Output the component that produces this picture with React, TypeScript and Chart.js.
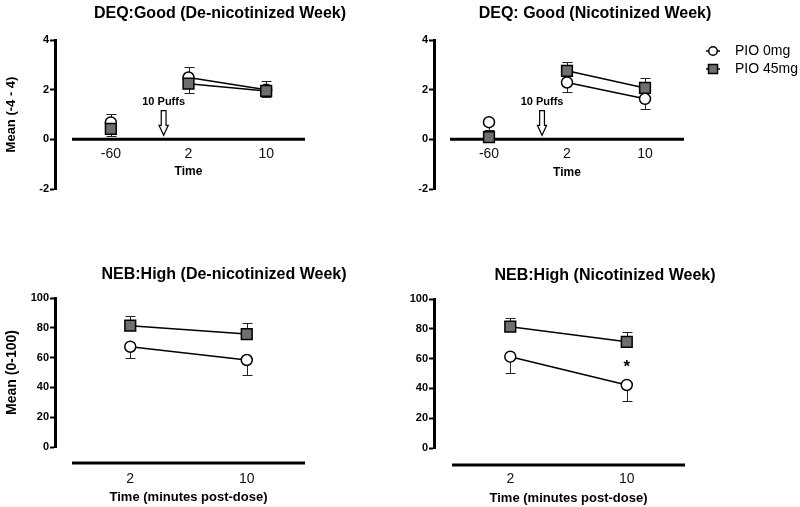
import React, { useEffect, useRef } from 'react';
import { Chart, registerables } from 'chart.js';

Chart.register(...registerables);

// ---------- data ----------
const deqTimes = ['-60', '2', '10'];
const nebTimes = ['2', '10'];
const seriesNames = ['PIO 0mg', 'PIO 45mg'];

const deqTicks = [-2, 0, 2, 4];
const nebTicks = [0, 20, 40, 60, 80, 100];

// DEQ: Good, de-nicotinized week
const deqDeNicPio0 = [0.68, 2.49, 2.0];
const deqDeNicPio0Err = [0.36, 0.43, 0.36];
const deqDeNicPio45 = [0.42, 2.24, 1.95];
const deqDeNicPio45Err = [0.3, 0.36, 0.23];

// DEQ: Good, nicotinized week
const deqNicPio0 = [0.69, 2.29, 1.63];
const deqNicPio0Err = [0.3, 0.37, 0.4];
const deqNicPio45 = [0.09, 2.76, 2.07];
const deqNicPio45Err = [0.15, 0.36, 0.38];

// NEB: High, de-nicotinized week
const nebDeNicPio0 = [67.3, 58.4];
const nebDeNicPio0Err = [7.8, 10.1];
const nebDeNicPio45 = [81.4, 75.8];
const nebDeNicPio45Err = [6.6, 7.2];

// NEB: High, nicotinized week
const nebNicPio0 = [61.3, 42.3];
const nebNicPio0Err = [10.8, 10.8];
const nebNicPio45 = [81.4, 71.3];
const nebNicPio45Err = [6.0, 6.7];

// significance marker (NEB nicotinized, 10 min)
const starTimeIndex = [1];
const starValue = [56];

// puff administration marker (between -60 and 2)
const puffPosition = 0.68;
const puffLabel = '10 Puffs';

const FONT = "'Liberation Sans', Arial, Helvetica, sans-serif";
const GRAY = '#6f6f6f';

interface Panel {
  key: string;
  left: number; top: number; width: number; height: number;
  title: string; titleX: number; titleY: number;
  cats: string[];
  s0: number[]; e0: number[]; d0: number;
  s45: number[]; e45: number[]; d45: number;
  yMin: number; yMax: number; yTicks: number[];
  yTitle?: string; yTitleSize: number;
  yAxisWidth: number; padTop: number; padBottom: number; padRight: number;
  xMin: number; xMax: number; xAxisHeight: number; tickPad: number;
  zeroAxis: boolean; lineOffset: number;
  xTitle: string; xTitleSize: number; xTitleOffset: number;
  separateFirst: boolean;
  arrow: boolean; legend: boolean; star: boolean;
}

const panels: Panel[] = [
  {
    key: 'tl', left: 0, top: 0, width: 400, height: 250,
    title: 'DEQ:Good (De-nicotinized Week)', titleX: 220, titleY: 14,
    cats: deqTimes,
    s0: deqDeNicPio0, e0: deqDeNicPio0Err, d0: 1,
    s45: deqDeNicPio45, e45: deqDeNicPio45Err, d45: -1,
    yMin: -2, yMax: 4, yTicks: deqTicks, yTitle: 'Mean (-4 - 4)', yTitleSize: 13,
    yAxisWidth: 55, padTop: 40, padBottom: 61, padRight: 95,
    xMin: -0.719, xMax: 2.5, xAxisHeight: 45, tickPad: 6.6,
    zeroAxis: true, lineOffset: 0,
    xTitle: 'Time', xTitleSize: 12, xTitleOffset: 32,
    separateFirst: true, arrow: true, legend: false, star: false,
  },
  {
    key: 'tr', left: 400, top: 0, width: 400, height: 250,
    title: 'DEQ: Good (Nicotinized Week)', titleX: 195, titleY: 14,
    cats: deqTimes,
    s0: deqNicPio0, e0: deqNicPio0Err, d0: -1,
    s45: deqNicPio45, e45: deqNicPio45Err, d45: 1,
    yMin: -2, yMax: 4, yTicks: deqTicks, yTitleSize: 13,
    yAxisWidth: 34, padTop: 40, padBottom: 61, padRight: 116,
    xMin: -0.705, xMax: 2.5, xAxisHeight: 45, tickPad: 6.6,
    zeroAxis: true, lineOffset: 0,
    xTitle: 'Time', xTitleSize: 12, xTitleOffset: 33.5,
    separateFirst: true, arrow: true, legend: true, star: false,
  },
  {
    key: 'bl', left: 0, top: 250, width: 400, height: 257,
    title: 'NEB:High (De-nicotinized Week)', titleX: 224, titleY: 25,
    cats: nebTimes,
    s0: nebDeNicPio0, e0: nebDeNicPio0Err, d0: -1,
    s45: nebDeNicPio45, e45: nebDeNicPio45Err, d45: 1,
    yMin: 0, yMax: 100, yTicks: nebTicks, yTitle: 'Mean (0-100)', yTitleSize: 14,
    yAxisWidth: 55, padTop: 48, padBottom: 2, padRight: 95,
    xMin: -0.646, xMax: 1.5, xAxisHeight: 58, tickPad: 23.6,
    zeroAxis: false, lineOffset: 16,
    xTitle: 'Time (minutes post-dose)', xTitleSize: 13, xTitleOffset: 34,
    separateFirst: false, arrow: false, legend: false, star: false,
  },
  {
    key: 'br', left: 400, top: 250, width: 400, height: 257,
    title: 'NEB:High (Nicotinized Week)', titleX: 205, titleY: 26,
    cats: nebTimes,
    s0: nebNicPio0, e0: nebNicPio0Err, d0: -1,
    s45: nebNicPio45, e45: nebNicPio45Err, d45: 1,
    yMin: 0, yMax: 100, yTicks: nebTicks, yTitleSize: 14,
    yAxisWidth: 34, padTop: 49, padBottom: 2, padRight: 115,
    xMin: -0.655, xMax: 1.5, xAxisHeight: 57, tickPad: 22.9,
    zeroAxis: false, lineOffset: 17,
    xTitle: 'Time (minutes post-dose)', xTitleSize: 13, xTitleOffset: 33.3,
    separateFirst: false, arrow: false, legend: false, star: true,
  },
];

function axisLineY(chart: any, p: Panel) {
  const ys = chart.scales.y;
  return p.zeroAxis ? ys.getPixelForValue(0) : chart.chartArea.bottom + p.lineOffset;
}

const decorPlugin = {
  id: 'decor',
  beforeDatasetsDraw(chart: any, _args: any, opts: any) {
    const p: Panel = opts.panel;
    const ctx = chart.ctx;
    const xs = chart.scales.x;
    const ys = chart.scales.y;
    ctx.save();
    // x axis line
    const ly = axisLineY(chart, p);
    ctx.strokeStyle = '#000';
    ctx.lineWidth = 3;
    ctx.beginPath();
    ctx.moveTo(xs.getPixelForValue(-0.5), ly);
    ctx.lineTo(xs.getPixelForValue(p.cats.length - 0.5), ly);
    ctx.stroke();
    // error bars
    const series = [
      { v: p.s0, e: p.e0, d: p.d0 },
      { v: p.s45, e: p.e45, d: p.d45 },
    ];
    ctx.lineWidth = 1;
    ctx.strokeStyle = '#222';
    series.forEach((s) => {
      s.v.forEach((val, i) => {
        const x = Math.round(xs.getPixelForValue(i)) + 0.5;
        const y0 = ys.getPixelForValue(val);
        const y1 = Math.round(ys.getPixelForValue(val + s.d * s.e[i])) + 0.5;
        ctx.beginPath();
        ctx.moveTo(x, y0);
        ctx.lineTo(x, y1);
        ctx.moveTo(x - 5, y1);
        ctx.lineTo(x + 5, y1);
        ctx.stroke();
      });
    });
    ctx.restore();
  },
  afterDatasetsDraw(chart: any, _args: any, opts: any) {
    const p: Panel = opts.panel;
    const ctx = chart.ctx;
    const xs = chart.scales.x;
    const ys = chart.scales.y;
    ctx.save();
    ctx.fillStyle = '#000';
    ctx.textAlign = 'center';
    ctx.textBaseline = 'middle';
    // title
    ctx.font = `bold 16px ${FONT}`;
    ctx.fillText(p.title, p.titleX, p.titleY);
    // x title
    const ly = axisLineY(chart, p);
    const mid = xs.getPixelForValue((p.cats.length - 1) / 2);
    ctx.font = `bold ${p.xTitleSize}px ${FONT}`;
    ctx.fillText(p.xTitle, mid, ly + p.xTitleOffset);
    // puff arrow
    if (p.arrow) {
      const ax = xs.getPixelForValue(puffPosition);
      const aTop = ys.getPixelForValue(1.16);
      const aTip = ys.getPixelForValue(0.16);
      const headLen = 10;
      const sh = 2.4;
      const hh = 4.6;
      ctx.beginPath();
      ctx.moveTo(ax - sh, aTop);
      ctx.lineTo(ax + sh, aTop);
      ctx.lineTo(ax + sh, aTip - headLen);
      ctx.lineTo(ax + hh, aTip - headLen);
      ctx.lineTo(ax, aTip);
      ctx.lineTo(ax - hh, aTip - headLen);
      ctx.lineTo(ax - sh, aTip - headLen);
      ctx.closePath();
      ctx.fillStyle = '#fff';
      ctx.fill();
      ctx.strokeStyle = '#000';
      ctx.lineWidth = 1.2;
      ctx.stroke();
      ctx.fillStyle = '#000';
      ctx.font = `bold 11px ${FONT}`;
      ctx.fillText(puffLabel, ax, ys.getPixelForValue(1.5));
    }
    // significance star
    if (p.star) {
      ctx.font = `bold 17px ${FONT}`;
      starTimeIndex.forEach((ti, k) => {
        ctx.fillText('*', xs.getPixelForValue(ti), ys.getPixelForValue(starValue[k]) + 3);
      });
    }
    // legend
    if (p.legend) {
      const lx = 313;
      const rows = [51, 69];
      rows.forEach((ry, k) => {
        ctx.strokeStyle = '#000';
        ctx.lineWidth = 1.5;
        ctx.beginPath();
        ctx.moveTo(lx - 7, ry);
        ctx.lineTo(lx + 7, ry);
        ctx.stroke();
        ctx.beginPath();
        if (k === 0) {
          ctx.arc(lx, ry, 4.3, 0, Math.PI * 2);
          ctx.fillStyle = '#fff';
        } else {
          ctx.rect(lx - 4.5, ry - 4.5, 9, 9);
          ctx.fillStyle = GRAY;
        }
        ctx.fill();
        ctx.stroke();
        ctx.fillStyle = '#000';
        ctx.textAlign = 'left';
        ctx.font = `14px ${FONT}`;
        ctx.fillText(seriesNames[k], 335, ry);
      });
    }
    ctx.restore();
  },
};

function buildConfig(p: Panel): any {
  const seg = p.separateFirst
    ? { borderColor: (c: any) => (c.p0DataIndex === 0 ? 'rgba(0,0,0,0)' : '#000') }
    : undefined;
  return {
    type: 'line',
    data: {
      datasets: [
        {
          label: seriesNames[0],
          data: p.s0.map((v, i) => ({ x: i, y: v })),
          borderColor: '#000',
          borderWidth: 1.5,
          pointStyle: 'circle',
          pointRadius: 5.5,
          pointBackgroundColor: '#fff',
          pointBorderColor: '#000',
          pointBorderWidth: 1.5,
          segment: seg,
          order: 2,
          clip: false,
        },
        {
          label: seriesNames[1],
          data: p.s45.map((v, i) => ({ x: i, y: v })),
          borderColor: '#000',
          borderWidth: 1.5,
          pointStyle: 'rect',
          pointRadius: 7.6,
          pointBackgroundColor: GRAY,
          pointBorderColor: '#000',
          pointBorderWidth: 1.5,
          segment: seg,
          order: 1,
          clip: false,
        },
      ],
    },
    options: {
      responsive: false,
      animation: false,
      devicePixelRatio: 1,
      layout: { padding: { left: 0, top: p.padTop, right: p.padRight, bottom: p.padBottom } },
      plugins: {
        legend: { display: false },
        tooltip: { enabled: false },
        decor: { panel: p },
      },
      scales: {
        x: {
          type: 'linear',
          bounds: 'data',
          min: p.xMin,
          max: p.xMax,
          position: p.zeroAxis ? { y: 0 } : 'bottom',
          grid: { display: false, drawTicks: false },
          border: { display: false },
          afterBuildTicks: (s: any) => {
            s.ticks = p.cats.map((_c, i) => ({ value: i }));
          },
          afterFit: (s: any) => {
            s.height = p.xAxisHeight;
          },
          ticks: {
            callback: (v: any) => p.cats[v] ?? '',
            font: { family: FONT, size: 14 },
            color: '#111',
            padding: p.tickPad,
            autoSkip: false,
            maxRotation: 0,
          },
        },
        y: {
          type: 'linear',
          bounds: 'data',
          min: p.yMin,
          max: p.yMax,
          afterBuildTicks: (s: any) => {
            s.ticks = p.yTicks.map((v) => ({ value: v }));
          },
          afterFit: (s: any) => {
            s.width = p.yAxisWidth;
          },
          grid: {
            display: true,
            drawOnChartArea: false,
            drawTicks: true,
            tickLength: 5,
            tickWidth: 2,
            tickColor: '#000',
            color: '#000',
          },
          border: { display: true, color: '#000', width: 3 },
          ticks: {
            font: { family: FONT, size: 11, weight: 'bold' },
            color: '#000',
            padding: 1,
          },
          title: {
            display: !!p.yTitle,
            text: p.yTitle || '',
            font: { family: FONT, size: p.yTitleSize, weight: 'bold' },
            color: '#000',
            padding: { top: 4, bottom: 0 },
          },
        },
      },
    },
    plugins: [decorPlugin],
  };
}

function PanelChart({ p }: { p: Panel }) {
  const ref = useRef<HTMLCanvasElement>(null);
  useEffect(() => {
    const chart = new Chart(ref.current as HTMLCanvasElement, buildConfig(p));
    return () => chart.destroy();
  }, [p]);
  return (
    <canvas
      ref={ref}
      width={p.width}
      height={p.height}
      style={{ position: 'absolute', left: p.left, top: p.top, width: p.width, height: p.height }}
    />
  );
}

export default function App() {
  return (
    <div
      style={{
        position: 'absolute',
        left: 0,
        top: 0,
        width: 800,
        height: 507,
        background: '#fff',
        overflow: 'hidden',
      }}
    >
      {panels.map((p) => (
        <PanelChart key={p.key} p={p} />
      ))}
    </div>
  );
}
